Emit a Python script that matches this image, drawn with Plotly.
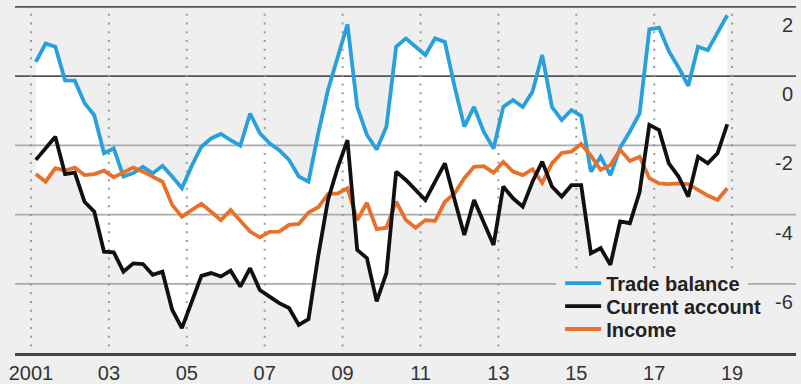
import numpy as np
import plotly.graph_objects as go

# ---- data (quarterly, 2001Q1 .. 2018Q4), % of GDP ----
START_YEAR = 2001
N_QUARTERS = 72

trade_balance = [
    0.41, 0.94, 0.85, -0.12, -0.13, -0.78, -1.13, -2.23,
    -2.09, -2.90, -2.80, -2.62, -2.81, -2.59, -2.90, -3.24,
    -2.60, -2.04, -1.80, -1.67, -1.85, -2.01, -1.08, -1.65,
    -1.94, -2.14, -2.42, -2.90, -3.05, -1.65, -0.40, 0.60,
    1.50, -0.89, -1.70, -2.12, -1.46, 0.85, 1.09, 0.85,
    0.61, 1.09, 0.99, -0.30, -1.46, -0.89, -1.61, -2.09,
    -0.89, -0.69, -0.89, -0.45, 0.61, -0.89, -1.27, -0.98,
    -1.15, -2.76, -2.33, -2.86, -2.07, -1.60, -1.08, 1.35,
    1.40, 0.72, 0.25, -0.28, 0.85, 0.75, 1.25, 1.76,
]
current_account = [
    -2.42, -2.09, -1.75, -2.83, -2.79, -3.63, -3.92, -5.07,
    -5.09, -5.65, -5.41, -5.43, -5.74, -5.65, -6.75, -7.28,
    -6.49, -5.77, -5.69, -5.79, -5.62, -6.08, -5.55, -6.18,
    -6.37, -6.56, -6.70, -7.19, -7.02, -5.19, -3.58, -2.64,
    -1.85, -5.02, -5.26, -6.51, -5.69, -2.76, -3.00, -3.31,
    -3.58, -3.05, -2.52, -3.57, -4.59, -3.58, -4.25, -4.88,
    -3.19, -3.53, -3.77, -3.05, -2.47, -3.19, -3.48, -3.15,
    -3.15, -5.12, -4.97, -5.45, -4.20, -4.25, -3.35, -1.41,
    -1.56, -2.52, -2.90, -3.48, -2.33, -2.52, -2.23, -1.39,
]
income = [
    -2.83, -3.05, -2.66, -2.73, -2.64, -2.86, -2.83, -2.73,
    -2.92, -2.79, -2.64, -2.76, -2.90, -3.05, -3.72, -4.06,
    -3.87, -3.69, -3.92, -4.16, -3.87, -4.20, -4.49, -4.66,
    -4.50, -4.49, -4.30, -4.27, -3.94, -3.79, -3.41, -3.39,
    -3.24, -4.16, -3.66, -4.42, -4.38, -3.63, -4.16, -4.38,
    -4.16, -4.18, -3.63, -3.39, -2.95, -2.62, -2.60, -2.79,
    -2.48, -2.76, -2.86, -2.69, -3.08, -2.52, -2.22, -2.18,
    -1.96, -2.30, -2.71, -2.57, -2.13, -2.45, -2.33, -2.95,
    -3.10, -3.12, -3.10, -3.12, -3.30, -3.45, -3.58, -3.24,
]

x_tick_vals = [2001, 2003, 2005, 2007, 2009, 2011, 2013, 2015, 2017, 2019]
x_tick_text = ["2001", "03", "05", "07", "09", "11", "13", "15", "17", "19"]
y_tick_vals = [2, 0, -2, -4, -6]
y_tick_text = ["2", "0", "-2", "-4", "-6"]
dark_grid = [2, 0]
light_grid = [-2, -4, -6]

# quarter mid-points as decimal years
x = START_YEAR + 0.125 + 0.25 * np.arange(N_QUARTERS)

series = np.array([trade_balance, current_account, income])
upper = series.max(axis=0)
lower = series.min(axis=0)

X_RANGE = [2000.59, 2020.64]
Y_RANGE = [-8, 2.2]
BG = "#efefef"
FONT = "Liberation Sans, Arial, sans-serif"

fig = go.Figure()

# white envelope between the highest and the lowest series
fig.add_trace(go.Scatter(x=x, y=lower, mode="lines", line=dict(width=0),
                         showlegend=False, hoverinfo="skip"))
fig.add_trace(go.Scatter(x=x, y=upper, mode="lines", line=dict(width=0),
                         fill="tonexty", fillcolor="white",
                         showlegend=False, hoverinfo="skip"))


def hlines(vals):
    xs, ys = [], []
    for v in vals:
        xs += [X_RANGE[0], X_RANGE[1], None]
        ys += [v, v, None]
    return xs, ys


gx, gy = hlines(light_grid)
fig.add_trace(go.Scatter(x=gx, y=gy, mode="lines",
                         line=dict(color="#ababab", width=1.8),
                         showlegend=False, hoverinfo="skip"))
gx, gy = hlines(dark_grid)
fig.add_trace(go.Scatter(x=gx, y=gy, mode="lines",
                         line=dict(color="#555555", width=1.8),
                         showlegend=False, hoverinfo="skip"))

# dotted vertical year guides
vx, vy = [], []
for t in x_tick_vals:
    vx += [t, t, None]
    vy += [1.8, -7.85, None]
fig.add_trace(go.Scatter(x=vx, y=vy, mode="lines",
                         line=dict(color="#9a9a9a", width=2, dash="2px,6.7px"),
                         showlegend=False, hoverinfo="skip"))

fig.add_trace(go.Scatter(x=x, y=trade_balance, mode="lines", name="Trade balance",
                         line=dict(color="#27a0dc", width=3.8), legend="legend"))
fig.add_trace(go.Scatter(x=x, y=income, mode="lines", name="Income",
                         line=dict(color="#e8702a", width=3.8), legend="legend3"))
fig.add_trace(go.Scatter(x=x, y=current_account, mode="lines", name="Current account",
                         line=dict(color="#111111", width=3.8), legend="legend2"))

for v, t in zip(y_tick_vals, y_tick_text):
    fig.add_annotation(x=1, xref="paper", y=v, yref="y", text=t, showarrow=False,
                       xanchor="right", yanchor="middle", xshift=-1, yshift=-18,
                       font=dict(family=FONT, size=20, color="#333333"))

# gray backing behind the legend block (hides guides under the key)
fig.add_shape(type="rect", xref="paper", yref="paper",
              x0=0.693, x1=0.9385, y0=0.17, y1=0.238,
              fillcolor=BG, line=dict(width=0), layer="above")
fig.add_shape(type="rect", xref="paper", yref="paper",
              x0=0.693, x1=0.965, y0=0.012, y1=0.186,
              fillcolor=BG, line=dict(width=0), layer="above")

legend_common = dict(x=0.698, xanchor="left", yanchor="middle",
                     bgcolor="rgba(0,0,0,0)", borderwidth=0, itemwidth=36,
                     font=dict(family=FONT, size=20, color="#222222", weight="bold"))

fig.update_layout(
    width=801, height=384,
    margin=dict(l=15, r=5, t=0, b=31),
    paper_bgcolor=BG, plot_bgcolor=BG,
    font=dict(family=FONT, size=20, color="#333333"),
    showlegend=True,
    legend=dict(y=0.198, **legend_common),
    legend2=dict(y=0.133, **legend_common),
    legend3=dict(y=0.068, **legend_common),
    xaxis=dict(range=X_RANGE, showgrid=False, zeroline=False,
               tickvals=x_tick_vals, ticktext=x_tick_text, ticks="",
               showline=True, linecolor="#444444", linewidth=2.5,
               tickfont=dict(family=FONT, size=20, color="#333333")),
    yaxis=dict(range=Y_RANGE, showgrid=False, zeroline=False,
               showticklabels=False, ticks=""),
)

fig.write_html("out.html", config={"displayModeBar": False},
               post_script="document.body.style.margin='0px';document.body.style.padding='0px';")
